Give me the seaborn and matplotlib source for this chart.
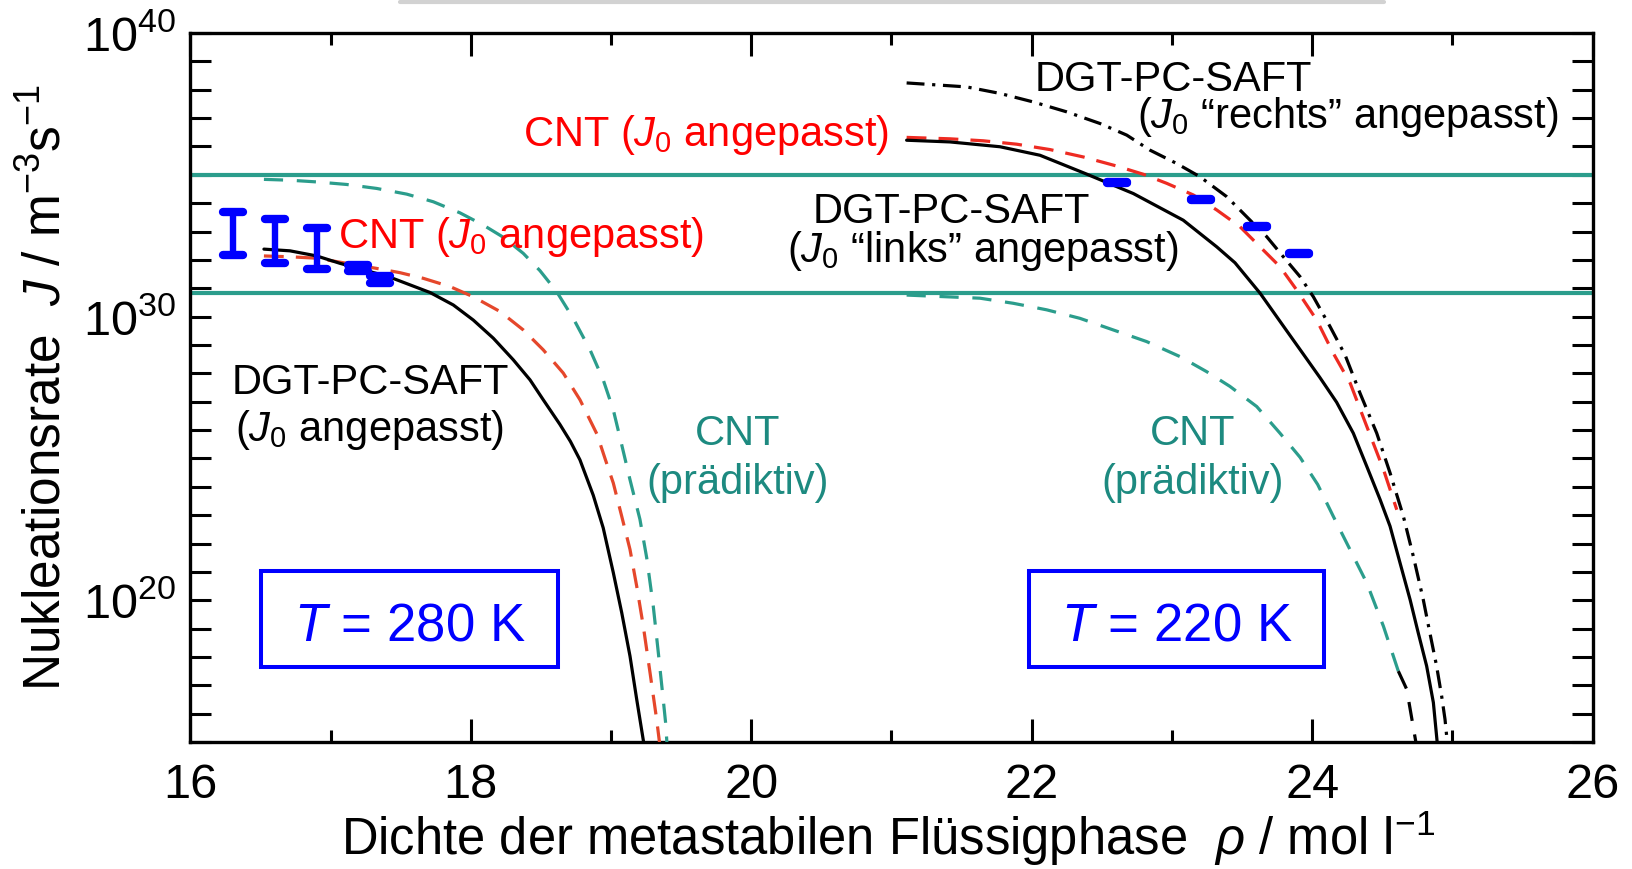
import numpy as np
import matplotlib
matplotlib.use("Agg")
import matplotlib.pyplot as plt
from matplotlib.markers import MarkerStyle
from matplotlib.lines import Line2D
from matplotlib.patches import Rectangle
from matplotlib.ticker import FixedLocator, FuncFormatter
import seaborn as sns

# ---------------------------------------------------------------------------
# Nucleation rate J (stored as log10 J, J in m^-3 s^-1) versus density rho (mol/l)
# ---------------------------------------------------------------------------

# T = 280 K
rho_dgt_280 = [16.524, 16.710, 16.900, 17.066, 17.257, 17.423, 17.566, 17.709, 17.875, 18.017,
               18.160, 18.302, 18.422, 18.516, 18.635, 18.71, 18.778, 18.873, 18.944, 19.016,
               19.076, 19.135, 19.183, 19.232]
lgJ_dgt_280 = [32.38, 32.32, 32.14, 31.88, 31.62, 31.39, 31.12, 30.85, 30.41, 29.88,
               29.24, 28.48, 27.77, 27.07, 26.20, 25.60, 24.95, 23.70, 22.55, 20.97,
               19.56, 18.03, 16.50, 15.00]

rho_cnt_fit_280 = [16.524, 16.710, 16.900, 17.114, 17.328, 17.494, 17.661, 17.851, 18.017, 18.208,
                   18.374, 18.516, 18.659, 18.778, 18.90, 18.96, 19.016, 19.076, 19.135, 19.183,
                   19.230, 19.278, 19.325, 19.345]
lgJ_cnt_fit_280 = [32.14, 32.11, 32.06, 31.88, 31.70, 31.55, 31.35, 31.06, 30.70, 30.18,
                   29.53, 28.83, 28.01, 27.07, 25.85, 24.95, 24.13, 22.96, 21.79, 20.49,
                   19.08, 17.44, 15.80, 15.00]

rho_cnt_pred_280 = [16.524, 16.710, 16.900, 17.114, 17.328, 17.542, 17.732, 17.922, 18.088, 18.231,
                    18.374, 18.493, 18.612, 18.730, 18.850, 18.944, 19.016, 19.075, 19.135, 19.206,
                    19.254, 19.301, 19.337, 19.372, 19.389, 19.398]
lgJ_cnt_pred_280 = [34.84, 34.81, 34.75, 34.66, 34.52, 34.32, 34.05, 33.66, 33.23, 32.80,
                    32.23, 31.62, 30.88, 29.94, 28.83, 27.77, 26.71, 25.50, 24.25, 22.85,
                    21.50, 19.79, 18.15, 16.50, 15.68, 15.00]

# measurements at 280 K (lower / upper bound of log10 J)
rho_exp_280 = [16.305, 16.603, 16.90, 17.197, 17.35]
lgJ_lo_280 = [32.17, 31.90, 31.67, 31.62, 31.20]
lgJ_hi_280 = [33.70, 33.43, 33.11, 31.82, 31.43]

# T = 220 K
rho_dgt_links_220 = [21.108, 21.417, 21.774, 22.059, 22.380, 22.725, 23.081, 23.320, 23.45, 23.630,
                     23.819, 23.937, 24.056, 24.175, 24.294, 24.390, 24.485, 24.556, 24.627, 24.699,
                     24.757, 24.817, 24.865, 24.892]
lgJ_dgt_links_220 = [36.22, 36.16, 35.99, 35.69, 35.05, 34.34, 33.40, 32.46, 31.90, 30.82,
                     29.50, 28.68, 27.85, 26.98, 25.89, 24.72, 23.55, 22.61, 21.32, 20.02,
                     18.85, 17.68, 16.39, 15.00]

rho_dgt_rechts_220 = [21.108, 21.536, 21.774, 22.011, 22.250, 22.487, 22.678, 22.844, 23.034, 23.201,
                      23.391, 23.558, 23.676, 23.795, 23.914, 24.009, 24.128, 24.235, 24.342, 24.461,
                      24.556, 24.651, 24.722, 24.793, 24.840, 24.888, 24.924, 24.948, 24.964]
lgJ_dgt_rechts_220 = [38.24, 38.10, 37.87, 37.57, 37.22, 36.81, 36.40, 35.87, 35.40, 34.93,
                      34.23, 33.40, 32.82, 32.11, 31.41, 30.70, 29.65, 28.65, 27.30, 25.89,
                      24.49, 22.96, 21.55, 20.02, 18.85, 17.68, 16.62, 15.80, 15.00]

rho_cnt_fit_220 = [21.108, 21.417, 21.655, 21.893, 22.131, 22.368, 22.606, 22.796, 22.963, 23.153,
                   23.320, 23.486, 23.629, 23.771, 23.890, 24.033, 24.151, 24.272, 24.390, 24.509,
                   24.604]
lgJ_cnt_fit_220 = [36.32, 36.27, 36.20, 36.08, 35.89, 35.63, 35.31, 35.02, 34.70, 34.29,
                   33.76, 33.17, 32.46, 31.76, 30.94, 29.88, 28.71, 27.65, 26.13, 24.61,
                   23.19]

rho_cnt_pred_220 = [21.108, 21.631, 21.869, 22.107, 22.344, 22.582, 22.820, 23.058, 23.248, 23.414,
                    23.605, 23.771, 23.914, 24.040, 24.151, 24.270, 24.390, 24.509, 24.615]
lgJ_cnt_pred_220 = [30.76, 30.65, 30.47, 30.24, 29.94, 29.53, 29.12, 28.59, 28.06, 27.54,
                    26.83, 25.89, 25.04, 24.08, 22.96, 21.79, 20.61, 19.08, 17.50]
rho_cnt_pred_220_tail = [24.615, 24.675, 24.74]
lgJ_cnt_pred_220_tail = [17.50, 16.86, 15.00]

# measurements at 220 K
rho_exp_220 = [22.606, 23.205, 23.607, 23.907]
lgJ_lo_220 = [34.71, 34.12, 33.17, 32.22]
lgJ_hi_220 = [34.75, 34.16, 33.21, 32.26]

# horizontal reference levels (log10 J)
lgJ_levels = [35.0, 30.82]

# axis ticks
x_ticks = [16, 18, 20, 22, 24, 26]
x_minor_ticks = [17, 19, 21, 23, 25]
y_decades = list(range(15, 41))
y_labelled = [20, 30, 40]

# ---------------------------------------------------------------------------
sns.set_theme(style="white")
plt.rcParams["font.family"] = ["Liberation Sans", "DejaVu Sans"]
plt.rcParams["mathtext.fontset"] = "custom"
plt.rcParams["mathtext.rm"] = "Liberation Sans"
plt.rcParams["mathtext.it"] = "Liberation Sans:italic"
plt.rcParams["mathtext.bf"] = "Liberation Sans:bold"
for key in ("text.color", "axes.labelcolor", "xtick.color", "ytick.color", "axes.edgecolor"):
    plt.rcParams[key] = "black"

BLACK = "#000000"
RED_280 = "#e5472b"
RED_220 = "#ee2b22"
RED_TXT = "#ff0000"
TEAL = "#2b9d8c"
TEAL_TXT = "#1d8a80"
BLUE = "#0000ff"

fig = plt.figure(figsize=(16.32, 8.69), dpi=100)
ax = fig.add_axes([0.1167, 0.1461, 0.9758 - 0.1167, 0.962 - 0.1461])
ax.set_yscale("log")
ax.set_xlim(16, 26)
ax.set_ylim(1e15, 1e40)

def J(lg):
    return np.power(10.0, np.asarray(lg, dtype=float))

LW = 2.3
dashed = (0, (6.2, 3.8))
dashed_teal = (0, (6.0, 4.3))
dashdot = (0, (5.6, 2.4, 1.0, 2.4))

# reference levels
for lv in lgJ_levels:
    ax.axhline(10.0 ** lv, color=TEAL, lw=3.0, zorder=2)

def curve(x, lg, color, ls, z=3):
    sns.lineplot(x=x, y=J(lg), ax=ax, color=color, linewidth=LW, linestyle=ls,
                 estimator=None, sort=False, zorder=z)

# 280 K
curve(rho_cnt_pred_280, lgJ_cnt_pred_280, TEAL, dashed_teal)
curve(rho_cnt_fit_280, lgJ_cnt_fit_280, RED_280, dashed)
curve(rho_dgt_280, lgJ_dgt_280, BLACK, "-")

# 220 K
curve(rho_cnt_pred_220, lgJ_cnt_pred_220, TEAL, dashed_teal)
curve(rho_cnt_pred_220_tail, lgJ_cnt_pred_220_tail, BLACK, dashed_teal)
curve(rho_cnt_fit_220, lgJ_cnt_fit_220, RED_220, dashed)
curve(rho_dgt_rechts_220, lgJ_dgt_rechts_220, BLACK, dashdot)
curve(rho_dgt_links_220, lgJ_dgt_links_220, BLACK, "-")

# measurements as error bars with rounded caps
round_cap = MarkerStyle("_", capstyle="round")
for xs, lo, hi in [(rho_exp_280, lgJ_lo_280, lgJ_hi_280),
                   (rho_exp_220, lgJ_lo_220, lgJ_hi_220)]:
    lo_v, hi_v = J(lo), J(hi)
    mid = np.sqrt(lo_v * hi_v)
    eb = ax.errorbar(xs, mid, yerr=[mid - lo_v, hi_v - mid], fmt="none",
                     ecolor=BLUE, elinewidth=4.6, capsize=7.2, capthick=6.0, zorder=5)
    for cl in eb[1]:
        cl.set_marker(round_cap)

# annotations
FS = 30
def label(x, lg, s, color, ha="left"):
    ax.text(x, 10.0 ** lg, s, color=color, fontsize=FS, ha=ha, va="baseline", zorder=6)

label(18.375, 36.02, r"CNT ($J_0$ angepasst)", RED_TXT)
label(17.054, 32.41, r"CNT ($J_0$ angepasst)", RED_TXT)
label(17.28, 27.28, "DGT-PC-SAFT", BLACK, ha="center")
label(17.28, 25.62, r"($J_0$ angepasst)", BLACK, ha="center")
label(21.427, 33.30, "DGT-PC-SAFT", BLACK, ha="center")
label(21.649, 31.92, r"($J_0$ “links” angepasst)", BLACK, ha="center")
label(23.01, 37.94, "DGT-PC-SAFT", BLACK, ha="center")
label(24.255, 36.66, r"($J_0$ “rechts” angepasst)", BLACK, ha="center")
label(19.905, 25.47, "CNT", TEAL_TXT, ha="center")
label(19.905, 23.75, "(prädiktiv)", TEAL_TXT, ha="center")
label(23.15, 25.47, "CNT", TEAL_TXT, ha="center")
label(23.15, 23.75, "(prädiktiv)", TEAL_TXT, ha="center")

# temperature boxes
for (x0, x1), txt in [((0.0503, 0.2619), r"$T$ = 280 K"), ((0.5982, 0.8085), r"$T$ = 220 K")]:
    ax.add_patch(Rectangle((x0, 0.1062), x1 - x0, 0.2412 - 0.1062, transform=ax.transAxes,
                           fill=False, edgecolor=BLUE, lw=2.9, zorder=6))
    ax.text((x0 + x1) / 2, 0.1430, txt, transform=ax.transAxes, color=BLUE,
            fontsize=38, ha="center", va="baseline", zorder=6)

# axes styling
for sp in ax.spines.values():
    sp.set_visible(True)
    sp.set_color(BLACK)
    sp.set_linewidth(2.4)

ax.xaxis.set_major_locator(FixedLocator(x_ticks))
ax.xaxis.set_minor_locator(FixedLocator(x_minor_ticks))
ax.set_xticklabels([str(t) for t in x_ticks])
ax.yaxis.set_major_locator(FixedLocator([10.0 ** d for d in y_decades]))
ax.yaxis.set_minor_locator(FixedLocator([]))
ax.yaxis.set_major_formatter(FuncFormatter(
    lambda v, pos: (r"$10^{%d}$" % round(np.log10(v))) if round(np.log10(v)) in y_labelled else ""))

ax.tick_params(axis="x", which="major", direction="in", length=16.5, width=2.2,
               top=True, bottom=True, labelsize=35, pad=15, colors=BLACK)
ax.tick_params(axis="x", which="minor", direction="in", length=8.6, width=2.2,
               top=True, bottom=True)
ax.tick_params(axis="y", which="major", direction="in", length=15, width=2.2,
               left=True, right=True, labelsize=35, pad=10, colors=BLACK)

ax.set_xlabel(r"Dichte der metastabilen Flüssigphase  $\rho$ / mol l$^{-1}$", fontsize=36.5)
ax.set_ylabel(r"Nukleationsrate  $J$ / m$^{-3}$s$^{-1}$", fontsize=37)
ax.xaxis.set_label_coords(0.4975, -0.094)
ax.yaxis.set_label_coords(-0.085, 0.5)
ax.grid(False)

# thin grey rule along the top edge of the canvas
fig.add_artist(Line2D([400 / 1632, 1384 / 1632], [1 - 2 / 869, 1 - 2 / 869],
                      transform=fig.transFigure, color="#d2d2d2", lw=3))

fig.savefig("out.png", dpi=100, facecolor="white")
